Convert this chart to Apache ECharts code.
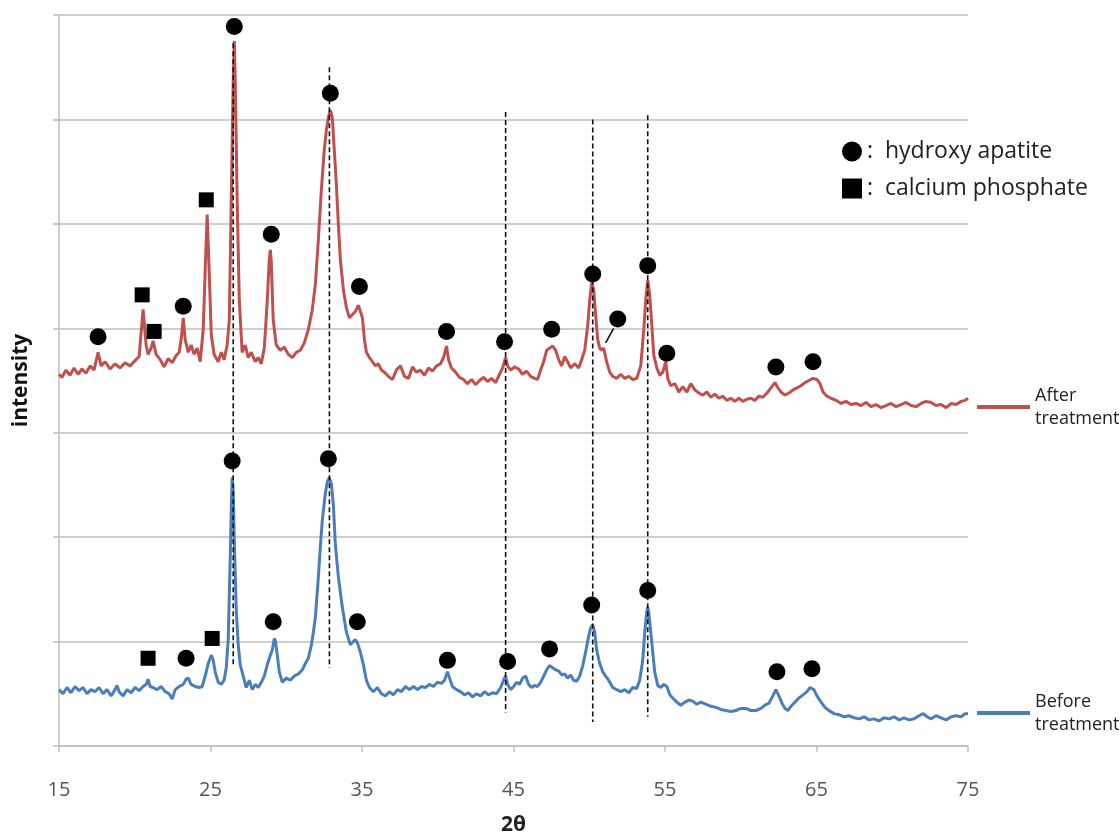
<!DOCTYPE html>
<html>
<head>
<meta charset="utf-8">
<script src="https://cdn.jsdelivr.net/npm/echarts@6/dist/echarts.min.js"></script>
<style>
  html, body { margin: 0; padding: 0; background: #fff; }
  #main { width: 1120px; height: 836px; }
</style>
</head>
<body>
<div id="main"></div>
<script>
var myChart = echarts.init(document.getElementById('main'));

// 2θ tick labels
var xTicks = [15, 25, 35, 45, 55, 65, 75];

// XRD pattern after treatment [2θ, intensity a.u.]
var afterTreatment = [
  [15.00,356],[15.20,353],[15.46,360],[15.73,355],[15.99,362],[16.26,356],[16.52,361],[16.78,357],[17.05,364],[17.31,360],
  [17.58,377],[17.78,364],[18.04,368],[18.37,361],[18.70,366],[19.03,362],[19.36,367],[19.69,364],[20.02,369],[20.29,373],
  [20.55,418],[20.75,384],[20.88,375],[21.08,381],[21.21,388],[21.41,375],[21.68,370],[21.94,363],[22.20,371],[22.47,367],
  [22.73,374],[22.93,377],[23.06,389],[23.20,410],[23.33,389],[23.53,377],[23.72,384],[23.92,375],[24.12,381],[24.32,368],
  [24.52,399],[24.65,456],[24.78,509],[24.91,456],[25.05,394],[25.24,375],[25.51,368],[25.71,377],[25.90,370],[26.10,384],
  [26.24,408],[26.37,523],[26.50,638],[26.57,675],[26.63,638],[26.76,523],[26.90,427],[27.09,377],[27.29,384],[27.49,372],
  [27.69,377],[27.95,368],[28.15,372],[28.35,366],[28.55,381],[28.75,427],[28.88,466],[28.95,475],[29.01,464],[29.14,408],
  [29.34,384],[29.61,379],[29.87,382],[30.13,375],[30.40,372],[30.66,377],[30.93,379],[31.19,386],[31.46,399],[31.72,418],
  [31.92,442],[32.12,485],[32.32,533],[32.51,571],[32.65,590],[32.78,602],[32.91,609],[33.04,602],[33.17,571],[33.31,537],
  [33.44,499],[33.57,466],[33.77,437],[33.97,420],[34.17,410],[34.36,413],[34.56,416],[34.76,422],[34.89,422],[35.03,410],
  [35.16,389],[35.29,377],[35.49,372],[35.69,368],[35.88,364],[36.08,366],[36.28,360],[36.55,357],[36.74,354],[37.01,351],
  [37.27,360],[37.54,364],[37.80,354],[38.07,352],[38.33,363],[38.59,358],[38.86,360],[39.12,355],[39.39,362],[39.65,359],
  [39.92,364],[40.18,366],[40.38,372],[40.58,383],[40.71,370],[40.91,362],[41.17,358],[41.44,353],[41.70,351],[41.96,347],
  [42.23,351],[42.49,346],[42.76,350],[43.02,353],[43.29,349],[43.55,352],[43.82,348],[44.08,356],[44.28,362],[44.48,372],
  [44.61,364],[44.81,360],[45.07,363],[45.34,361],[45.60,356],[45.86,359],[46.13,354],[46.39,352],[46.59,351],[46.79,360],
  [46.99,368],[47.19,379],[47.38,381],[47.58,383],[47.78,379],[47.98,370],[48.18,364],[48.38,373],[48.57,368],[48.77,362],
  [49.04,366],[49.30,362],[49.50,370],[49.70,379],[49.90,403],[50.03,427],[50.16,444],[50.29,437],[50.42,413],[50.56,389],
  [50.69,381],[50.82,379],[50.95,381],[51.15,368],[51.35,358],[51.55,354],[51.81,352],[52.08,356],[52.34,352],[52.61,354],
  [52.87,351],[53.13,352],[53.40,364],[53.60,399],[53.73,427],[53.86,446],[53.99,432],[54.13,403],[54.26,374],[54.46,362],
  [54.65,355],[54.85,358],[55.05,368],[55.18,352],[55.38,345],[55.65,347],[55.91,339],[56.17,344],[56.44,339],[56.70,347],
  [56.97,341],[57.23,338],[57.50,336],[57.76,339],[58.02,334],[58.29,337],[58.55,333],[58.82,335],[59.08,331],[59.35,333],
  [59.61,330],[59.88,333],[60.14,330],[60.40,332],[60.67,333],[60.93,331],[61.20,335],[61.46,334],[61.73,338],[61.99,343],
  [62.26,348],[62.45,343],[62.65,339],[62.92,336],[63.18,338],[63.45,341],[63.71,343],[63.97,345],[64.24,348],[64.50,350],
  [64.77,352],[65.03,351],[65.23,347],[65.43,339],[65.69,335],[65.96,333],[66.29,331],[66.62,328],[66.95,330],[67.28,327],
  [67.61,328],[67.94,326],[68.27,329],[68.60,325],[68.93,327],[69.26,324],[69.59,326],[69.92,328],[70.25,325],[70.58,327],
  [70.91,329],[71.24,326],[71.57,325],[71.90,328],[72.23,330],[72.56,329],[72.89,326],[73.22,327],[73.56,324],[73.89,328],
  [74.22,327],[74.55,330],[74.81,331],[75.00,333]
];

// XRD pattern before treatment [2θ, intensity a.u.]
var beforeTreatment = [
  [15.00,54],[15.26,50],[15.53,56],[15.79,51],[16.06,57],[16.32,53],[16.59,56],[16.85,50],[17.11,54],[17.38,52],
  [17.64,56],[17.91,50],[18.17,54],[18.44,48],[18.70,54],[18.83,58],[18.97,52],[19.23,48],[19.49,54],[19.76,51],
  [20.02,56],[20.29,53],[20.55,57],[20.75,59],[20.88,64],[21.01,57],[21.21,56],[21.48,54],[21.74,57],[22.01,52],
  [22.27,50],[22.47,45],[22.67,54],[22.93,57],[23.20,59],[23.39,64],[23.53,65],[23.72,59],[23.99,57],[24.25,56],
  [24.45,57],[24.65,67],[24.85,79],[25.05,87],[25.18,82],[25.31,71],[25.51,61],[25.71,59],[25.90,63],[26.04,75],
  [26.17,102],[26.30,178],[26.37,226],[26.43,257],[26.50,245],[26.57,197],[26.70,130],[26.83,97],[26.96,78],[27.16,67],
  [27.36,56],[27.56,63],[27.76,54],[27.95,59],[28.15,56],[28.35,61],[28.55,67],[28.75,78],[28.95,87],[29.08,92],
  [29.21,103],[29.28,101],[29.41,87],[29.54,71],[29.74,61],[30.00,65],[30.27,63],[30.53,67],[30.80,69],[31.06,73],
  [31.26,79],[31.46,84],[31.66,97],[31.79,109],[31.92,123],[32.12,162],[32.25,191],[32.38,216],[32.58,242],[32.71,253],
  [32.84,257],[32.98,251],[33.11,231],[33.24,193],[33.44,162],[33.70,133],[33.97,109],[34.23,97],[34.43,100],[34.56,102],
  [34.69,99],[34.89,90],[35.09,78],[35.29,63],[35.49,56],[35.75,52],[36.02,56],[36.28,50],[36.55,48],[36.81,52],
  [37.07,49],[37.34,54],[37.60,52],[37.87,57],[38.13,54],[38.40,57],[38.66,54],[38.93,57],[39.19,56],[39.45,59],
  [39.72,57],[39.98,61],[40.25,60],[40.45,63],[40.64,71],[40.78,65],[40.97,57],[41.24,54],[41.50,52],[41.77,49],
  [42.03,51],[42.30,47],[42.56,50],[42.82,48],[43.09,52],[43.35,49],[43.62,51],[43.88,50],[44.15,56],[44.34,63],
  [44.48,67],[44.61,59],[44.81,54],[45.01,57],[45.20,61],[45.40,59],[45.60,65],[45.80,67],[46.00,59],[46.19,56],
  [46.39,58],[46.59,57],[46.79,61],[46.99,67],[47.19,73],[47.38,77],[47.58,75],[47.78,73],[47.98,72],[48.18,68],
  [48.38,69],[48.57,65],[48.77,68],[48.97,63],[49.17,62],[49.37,67],[49.57,77],[49.76,90],[49.96,105],[50.09,113],
  [50.23,116],[50.36,109],[50.49,92],[50.69,79],[50.89,71],[51.08,67],[51.28,63],[51.55,56],[51.81,54],[52.08,52],
  [52.34,54],[52.61,51],[52.87,56],[53.13,55],[53.33,63],[53.53,82],[53.66,108],[53.79,128],[53.86,133],[53.93,128],
  [54.06,109],[54.19,90],[54.32,71],[54.52,58],[54.72,56],[54.92,59],[55.12,57],[55.32,49],[55.51,46],[55.78,42],
  [56.04,39],[56.31,42],[56.57,44],[56.83,43],[57.10,40],[57.36,42],[57.69,40],[58.03,38],[58.36,37],[58.69,35],
  [59.02,34],[59.35,33],[59.68,34],[60.01,36],[60.34,36],[60.67,34],[61.00,34],[61.33,36],[61.59,39],[61.86,41],
  [62.12,48],[62.32,54],[62.52,48],[62.72,41],[62.92,36],[63.11,34],[63.31,38],[63.58,42],[63.84,46],[64.11,49],
  [64.37,52],[64.57,56],[64.70,57],[64.83,54],[65.03,48],[65.30,42],[65.56,37],[65.82,34],[66.16,31],[66.49,30],
  [66.82,28],[67.15,29],[67.48,27],[67.81,26],[68.14,28],[68.47,25],[68.80,26],[69.13,24],[69.46,27],[69.79,26],
  [70.12,28],[70.45,25],[70.78,27],[71.11,25],[71.44,26],[71.77,29],[72.04,31],[72.30,28],[72.56,26],[72.89,29],
  [73.22,27],[73.56,25],[73.89,28],[74.22,29],[74.55,28],[74.81,31],[75.00,31]
];

// phase markers [2θ, height]
var apatiteMarks = [
  [17.58,392],[23.20,421],[26.57,689],[29.01,490],[32.91,625],[34.83,440],[40.58,397],[44.41,387],
  [47.52,399],[50.23,452],[51.88,409],[53.86,460],[55.12,376],[62.32,363],[64.77,368],
  [23.39,84],[26.43,273],[29.14,119],[32.78,275],[34.69,119],[40.64,82],[44.61,81],[47.38,93],
  [50.16,135],[53.86,149],[62.39,71],[64.70,74]
];
var phosphateMarks = [
  [20.49,432],[21.28,397],[24.72,523],
  [20.88,84],[25.11,103]
];

// pointer from the 51.9° marker to its shoulder
var pointerLine = [[51.61,400],[51.08,386]];

// dashed reference lines [2θ, top, bottom]
var guideLines = [
  [26.50, 673, 78],
  [32.85, 650, 75],
  [44.48, 607, 32],
  [50.23, 600, 23],
  [53.86, 604, 28]
];

var fontName = "'Open Sans', 'Noto Sans', sans-serif";

var series = [
  {
    name: 'After treatment',
    type: 'line',
    data: afterTreatment,
    showSymbol: false,
    lineStyle: { color: '#C0504D', width: 3 },
    itemStyle: { color: '#C0504D' }
  },
  {
    name: 'Before treatment',
    type: 'line',
    data: beforeTreatment,
    showSymbol: false,
    lineStyle: { color: '#4A7EBB', width: 3 },
    itemStyle: { color: '#4A7EBB' }
  }
];

guideLines.forEach(function (g) {
  series.push({
    type: 'line',
    data: [[g[0], g[1]], [g[0], g[2]]],
    showSymbol: false,
    silent: true,
    z: 3,
    lineStyle: { color: '#111', width: 1.6, type: [5, 3] }
  });
});

series.push({
  type: 'line',
  data: pointerLine,
  showSymbol: false,
  silent: true,
  z: 4,
  lineStyle: { color: '#111', width: 1.6 }
});

series.push({
  name: 'hydroxy apatite',
  type: 'scatter',
  data: apatiteMarks,
  symbol: 'circle',
  symbolSize: 17,
  z: 5,
  itemStyle: { color: '#000', opacity: 1 }
});
series.push({
  name: 'calcium phosphate',
  type: 'scatter',
  data: phosphateMarks,
  symbol: 'rect',
  symbolSize: 15,
  z: 5,
  itemStyle: { color: '#000', opacity: 1 }
});

option = {
  animation: false,
  backgroundColor: '#fff',
  textStyle: { fontFamily: fontName },
  grid: { left: 59, right: 152, top: 15, bottom: 90, outerBoundsMode: 'none' },
  legend: [
    {
      data: ['hydroxy apatite', 'calcium phosphate'],
      orient: 'vertical',
      left: 837,
      top: 135,
      itemWidth: 20,
      itemHeight: 20,
      itemGap: 14,
      selectedMode: false,
      formatter: ':  {name}',
      itemStyle: { opacity: 1 },
      textStyle: { fontSize: 23, color: '#222', fontFamily: fontName }
    },
    {
      data: ['After treatment'],
      left: 972,
      top: 379,
      icon: 'rect',
      itemWidth: 53,
      itemHeight: 4,
      selectedMode: false,
      formatter: function (name) { return name.replace(' ', '\n'); },
      textStyle: { fontSize: 18, lineHeight: 23, color: '#222', fontFamily: fontName }
    },
    {
      data: ['Before treatment'],
      left: 972,
      top: 685,
      icon: 'rect',
      itemWidth: 53,
      itemHeight: 4,
      selectedMode: false,
      formatter: function (name) { return name.replace(' ', '\n'); },
      textStyle: { fontSize: 18, lineHeight: 23, color: '#222', fontFamily: fontName }
    }
  ],
  xAxis: {
    type: 'value',
    min: 15,
    max: 75,
    name: '2θ',
    nameLocation: 'middle',
    nameGap: 69,
    nameTextStyle: { fontSize: 21, fontWeight: 'bold', color: '#222', fontFamily: fontName },
    axisLine: { show: true, lineStyle: { color: '#bfbfbf', width: 1.5 } },
    axisTick: { show: true, length: 6, customValues: xTicks, lineStyle: { color: '#bfbfbf', width: 1.5 } },
    axisLabel: { customValues: xTicks, margin: 34, fontSize: 20, color: '#555', fontFamily: fontName },
    splitLine: { show: false }
  },
  yAxis: {
    type: 'value',
    min: 0,
    max: 700,
    interval: 100,
    name: 'intensity',
    nameLocation: 'middle',
    nameGap: 27,
    nameTextStyle: { fontSize: 21, fontWeight: 'bold', color: '#111', fontFamily: fontName },
    axisLine: { show: true, lineStyle: { color: '#bfbfbf', width: 1.5 } },
    axisTick: { show: true, length: 6, lineStyle: { color: '#bfbfbf', width: 1.5 } },
    axisLabel: { show: false },
    splitLine: { show: true, lineStyle: { color: '#bfbfbf', width: 1.5 } }
  },
  series: series
};

myChart.setOption(option);
</script>
</body>
</html>
